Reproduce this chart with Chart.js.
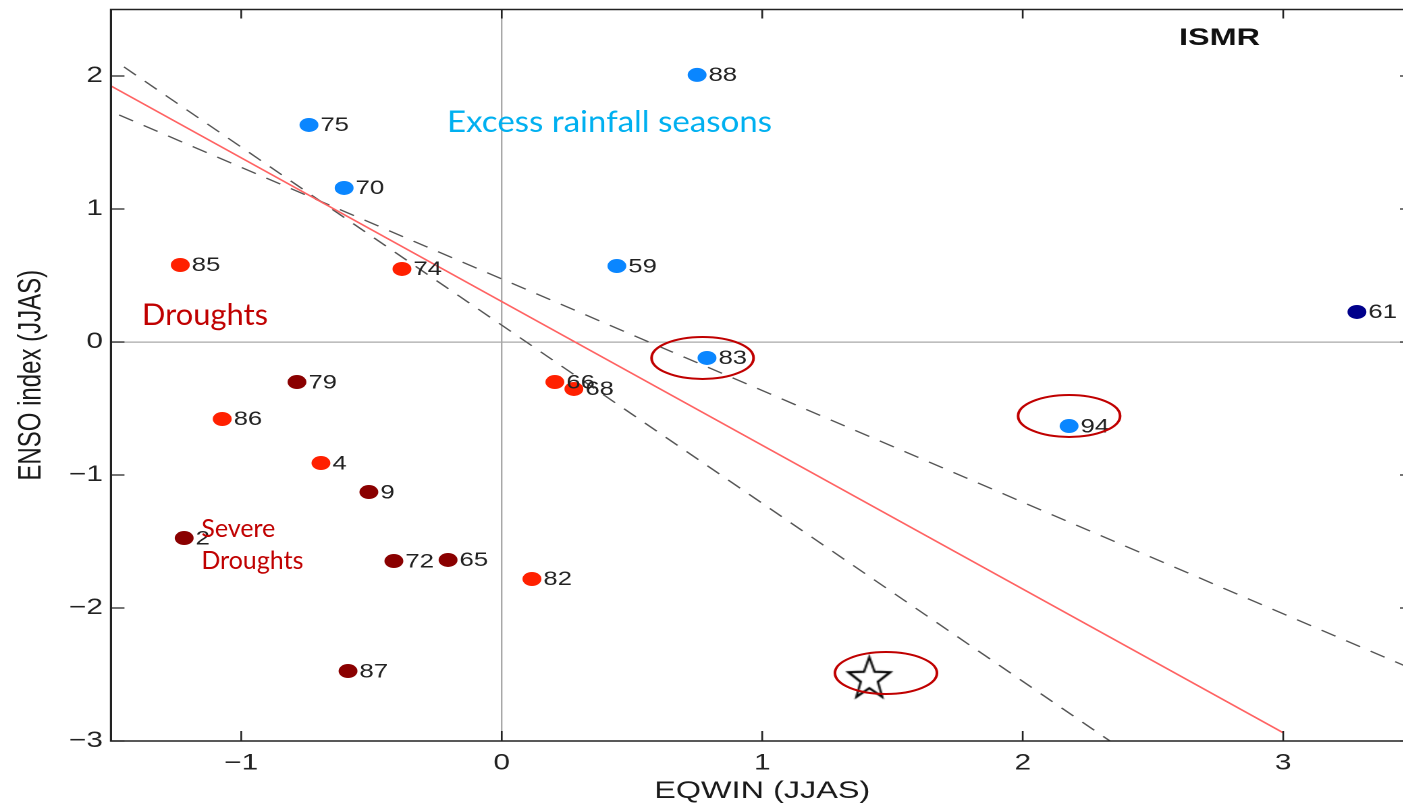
<!DOCTYPE html>
<html>
<head>
<meta charset="utf-8">
<script src="https://cdn.jsdelivr.net/npm/chart.js@4.4.1/dist/chart.umd.min.js"></script>
<style>
  html, body { margin: 0; padding: 0; background: #fff; overflow: hidden; width: 1403px; height: 806px; }
  #wrap { position: absolute; left: 0; top: 0; width: 1054px; height: 806px; transform: scaleX(1.35); transform-origin: 0 0; }
  canvas { display: block; }
</style>
</head>
<body>
<div id="wrap"><canvas id="c" width="1054" height="806" style="width:1054px;height:806px"></canvas></div>
<script>
// The figure is laid out 1.35x wider than tall
const STRETCH = 1.35;

// Excess rainfall seasons
const excessYears = ['88', '75', '70', '59', '83', '94'];
const excessEqwin = [0.750, -0.740, -0.605, 0.442, 0.788, 2.178];
const excessEnso  = [2.008, 1.632, 1.158, 0.571, -0.120, -0.632];

// Strongest excess season
const peakYears = ['61'];
const peakEqwin = [3.283];
const peakEnso  = [0.226];

// Droughts
const droughtYears = ['85', '74', '86', '4', '82', '66', '68'];
const droughtEqwin = [-1.234, -0.383, -1.073, -0.694, 0.116, 0.204, 0.277];
const droughtEnso  = [0.579, 0.549, -0.579, -0.910, -1.782, -0.301, -0.353];

// Severe droughts
const severeYears = ['79', '9', '2', '72', '65', '87'];
const severeEqwin = [-0.786, -0.510, -1.219, -0.414, -0.206, -0.590];
const severeEnso  = [-0.301, -1.128, -1.474, -1.647, -1.639, -2.474];

// Current season (star)
const currentEqwin = [1.411];
const currentEnso  = [-2.519];

// Regression fit and its two bounding lines (end points)
const fitEqwin   = [-1.5, 3.0];
const fitEnso    = [1.925, -2.938];
const boundAEqwin = [-1.450, 2.335];
const boundAEnso  = [2.068, -3.0];
const boundBEqwin = [-1.469, 3.5];
const boundBEnso  = [1.707, -2.463];

// Axis ticks
const xTicks = [-1, 0, 1, 2, 3];
const yTicks = [-3, -2, -1, 0, 1, 2];

// Circled seasons (centre in data units)
const circledEqwin = [0.771, 2.178, 1.475];
const circledEnso  = [-0.120, -0.556, -2.489];

const pts = (xs, ys) => xs.map((x, i) => ({ x, y: ys[i] }));
const fmt = v => (v < 0 ? '\u2212' + Math.abs(v) : String(v));

// Width of the y-axis band in canvas pixels (before the stretch)
const PLOT_LEFT = 82.2;

// Hollow five-point star marker, drawn undistorted after the stretch
function makeStar(R, r) {
  const c = document.createElement('canvas');
  c.width = Math.ceil(2 * R / STRETCH) + 6;
  c.height = Math.ceil(2 * R) + 6;
  const g = c.getContext('2d');
  g.translate(c.width / 2, c.height / 2 + 2);
  g.scale(1 / STRETCH, 1);
  g.beginPath();
  for (let k = 0; k < 10; k++) {
    const rad = k % 2 === 0 ? R : r;
    const a = -Math.PI / 2 + k * Math.PI / 5;
    const px = rad * Math.cos(a), py = rad * Math.sin(a);
    if (k === 0) g.moveTo(px, py); else g.lineTo(px, py);
  }
  g.closePath();
  g.fillStyle = '#ffffff';
  g.fill();
  g.lineWidth = 2.2;
  g.strokeStyle = '#000000';
  g.stroke();
  return c;
}
const starMarker = makeStar(22, 9);

// Year labels next to each marker
const yearLabels = {
  id: 'yearLabels',
  afterDatasetsDraw(chart) {
    const ctx = chart.ctx;
    ctx.save();
    ctx.font = '19px "Liberation Sans", Arial, sans-serif';
    ctx.fillStyle = '#222';
    ctx.textBaseline = 'middle';
    ctx.textAlign = 'left';
    chart.data.datasets.forEach((ds, i) => {
      if (!ds.years) return;
      chart.getDatasetMeta(i).data.forEach((el, j) => {
        ctx.fillText(ds.years[j], el.x + 8.5, el.y + 1);
      });
    });
    ctx.restore();
  }
};

// Box frame with inward ticks
const frame = {
  id: 'frame',
  afterDatasetsDraw(chart) {
    const { ctx, chartArea: a, scales } = chart;
    ctx.save();
    ctx.strokeStyle = '#222';
    ctx.lineWidth = 1.6;
    ctx.beginPath();
    ctx.rect(a.left, a.top, a.right - a.left, a.bottom - a.top);
    ctx.stroke();
    ctx.lineWidth = 1.3;
    ctx.beginPath();
    scales.x.ticks.forEach(t => {
      const x = scales.x.getPixelForValue(t.value);
      ctx.moveTo(x, a.bottom); ctx.lineTo(x, a.bottom - 10);
      ctx.moveTo(x, a.top); ctx.lineTo(x, a.top + 9);
    });
    scales.y.ticks.forEach(t => {
      const y = scales.y.getPixelForValue(t.value);
      ctx.moveTo(a.left, y); ctx.lineTo(a.left + 10, y);
      ctx.moveTo(a.right, y); ctx.lineTo(a.right - 10, y);
    });
    ctx.stroke();
    ctx.restore();
  }
};

// Text notes and circled seasons
const notes = {
  id: 'notes',
  afterDraw(chart) {
    const { ctx, scales: { x: xs, y: ys } } = chart;
    const X = v => xs.getPixelForValue(v), Y = v => ys.getPixelForValue(v);
    ctx.save();
    ctx.beginPath();
    ctx.rect(chart.chartArea.left, chart.chartArea.top, chart.chartArea.right - chart.chartArea.left, chart.chartArea.bottom - chart.chartArea.top);
    ctx.clip();

    ctx.font = 'bold 24px "Liberation Sans", Arial, sans-serif';
    ctx.fillStyle = '#111';
    ctx.textBaseline = 'alphabetic';
    ctx.fillText('ISMR', X(2.600), Y(2.233));

    // Unstretched text; an optional width (screen px) fits the run to that width
    const plain = (text, x, y, font, color, width) => {
      ctx.save();
      ctx.translate(X(x), Y(y));
      ctx.font = font;
      const k = width ? width / ctx.measureText(text).width : 1;
      ctx.scale(k / STRETCH, 1);
      ctx.fillStyle = color;
      ctx.textBaseline = 'alphabetic';
      ctx.fillText(text, 0, 0);
      ctx.restore();
    };
    plain('Excess rainfall seasons', -0.210, 1.579, '30px Lato, Carlito, sans-serif', '#00b0f0', 325);
    plain('Droughts', -1.381, 0.128, '30px Lato, Carlito, sans-serif', '#c00000', 126);
    plain('Severe', -1.153, -1.466, '25px Lato, Carlito, sans-serif', '#c00000');
    plain('Droughts', -1.153, -1.707, '25px Lato, Carlito, sans-serif', '#c00000');

    ctx.strokeStyle = '#c00000';
    ctx.lineWidth = 2;
    circledEqwin.forEach((cx, i) => {
      ctx.beginPath();
      ctx.ellipse(X(cx), Y(circledEnso[i]), 51 / STRETCH, 21, 0, 0, Math.PI * 2);
      ctx.stroke();
    });
    ctx.restore();
  }
};

const tickFont = { family: '"Liberation Sans", Arial, sans-serif', size: 22 };
const titleFont = { family: '"Liberation Sans", Arial, sans-serif', size: 24 };
const zeroGrid = {
  drawTicks: false,
  lineWidth: 1.2,
  color: c => (c.tick && c.tick.value === 0 ? '#a8a8a8' : 'rgba(0,0,0,0)')
};
// Fixed axis band sizes; tick labels never push the plot area inward
const fixBand = (s, size) => {
  if (s.isHorizontal()) s.height = size; else s.width = size;
  s.paddingTop = 0; s.paddingBottom = 0; s.paddingLeft = 0; s.paddingRight = 0;
};

const dot = { borderWidth: 0, pointRadius: 7, pointHoverRadius: 7, order: 1 };
const rule = { type: 'line', showLine: true, pointRadius: 0, pointHoverRadius: 0, pointBorderWidth: 0, order: 2 };

new Chart(document.getElementById('c'), {
  type: 'scatter',
  data: {
    datasets: [
      { ...dot, label: 'Excess', years: excessYears, data: pts(excessEqwin, excessEnso), backgroundColor: '#0a86ff' },
      { ...dot, label: 'Peak', years: peakYears, data: pts(peakEqwin, peakEnso), backgroundColor: '#00008b' },
      { ...dot, label: 'Drought', years: droughtYears, data: pts(droughtEqwin, droughtEnso), backgroundColor: '#ff2000' },
      { ...dot, label: 'Severe drought', years: severeYears, data: pts(severeEqwin, severeEnso), backgroundColor: '#8a0000' },
      { label: 'Current', data: pts(currentEqwin, currentEnso),
        pointStyle: starMarker, pointRadius: 4, pointHoverRadius: 4, borderWidth: 0, order: 0 },
      { ...rule, label: 'Fit', data: pts(fitEqwin, fitEnso), borderColor: '#ff6262', borderWidth: 1.5 },
      { ...rule, label: 'Bound A', data: pts(boundAEqwin, boundAEnso), borderColor: '#555', borderWidth: 1.3, borderDash: [12, 9] },
      { ...rule, label: 'Bound B', data: pts(boundBEqwin, boundBEnso), borderColor: '#555', borderWidth: 1.3, borderDash: [12, 9] }
    ]
  },
  options: {
    responsive: false,
    animation: false,
    devicePixelRatio: 2,
    layout: { padding: { left: 0, right: 7, top: 9.5, bottom: 0 } },
    plugins: { legend: { display: false }, tooltip: { enabled: false } },
    scales: {
      x: {
        type: 'linear', min: -1.5, max: 3.5,
        afterBuildTicks: s => { s.ticks = xTicks.map(v => ({ value: v })); },
        afterFit: s => fixBand(s, 65),
        ticks: { font: tickFont, color: '#222', padding: 9, callback: fmt, maxRotation: 0 },
        grid: zeroGrid,
        border: { display: false },
        title: { display: true, text: 'EQWIN (JJAS)', font: titleFont, color: '#1a1a1a', padding: { top: 0, bottom: 0 } }
      },
      y: {
        type: 'linear', min: -3, max: 2.5,
        afterBuildTicks: s => { s.ticks = yTicks.map(v => ({ value: v })); },
        afterFit: s => fixBand(s, PLOT_LEFT),
        ticks: { font: tickFont, color: '#222', padding: 6, callback: fmt },
        grid: zeroGrid,
        border: { display: false },
        title: { display: true, text: 'ENSO index (JJAS)', font: titleFont, color: '#1a1a1a', padding: { top: 9, bottom: 0 } }
      }
    }
  },
  plugins: [yearLabels, frame, notes]
});
</script>
</body>
</html>
